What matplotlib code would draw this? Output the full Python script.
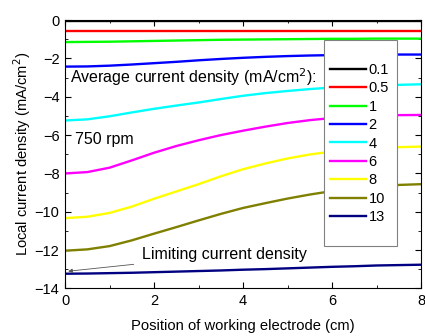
import numpy as np
import matplotlib.pyplot as plt
from matplotlib.patches import Rectangle

plt.rcParams['font.family'] = ['Liberation Sans', 'DejaVu Sans']

x = [0, 0.5, 1, 1.5, 2, 2.5, 3, 3.5, 4, 4.5, 5, 5.5, 6, 6.5, 7, 7.5, 8]
labels = ['0.1', '0.5', '1', '2', '4', '6', '8', '10', '13']
colors = ['#000000', '#ff0000', '#00ff00', '#0000ff', '#00ffff',
          '#ff00ff', '#ffff00', '#808000', '#000080']

j_01 = [-0.05] * 17
j_05 = [-0.55] * 17
j_1 = [-1.15, -1.14, -1.13, -1.11, -1.09, -1.07, -1.05, -1.03, -1.02,
       -1.01, -1.0, -0.99, -0.98, -0.98, -0.97, -0.97, -0.97]
j_2 = [-2.43, -2.42, -2.38, -2.32, -2.25, -2.18, -2.1, -2.03, -1.97,
       -1.92, -1.88, -1.85, -1.83, -1.82, -1.81, -1.8, -1.8]
j_4 = [-5.24, -5.18, -5.02, -4.82, -4.63, -4.46, -4.3, -4.12, -3.95,
       -3.81, -3.7, -3.6, -3.52, -3.46, -3.42, -3.38, -3.35]
j_6 = [-8.0, -7.93, -7.7, -7.32, -6.92, -6.57, -6.27, -6.0, -5.77,
       -5.56, -5.37, -5.22, -5.11, -5.04, -4.99, -4.96, -4.95]
j_8 = [-10.33, -10.26, -10.06, -9.73, -9.32, -8.94, -8.56, -8.15, -7.78,
       -7.48, -7.22, -7.01, -6.86, -6.76, -6.68, -6.63, -6.6]
j_10 = [-12.03, -11.96, -11.79, -11.49, -11.14, -10.8, -10.45, -10.11, -9.8,
        -9.55, -9.31, -9.1, -8.92, -8.77, -8.66, -8.6, -8.56]
j_13 = [-13.23, -13.22, -13.2, -13.18, -13.15, -13.12, -13.09, -13.06, -13.02,
        -12.99, -12.95, -12.91, -12.87, -12.84, -12.8, -12.78, -12.76]
series = [j_01, j_05, j_1, j_2, j_4, j_6, j_8, j_10, j_13]

fig = plt.figure(figsize=(4.25, 3.36), dpi=100)
ax = fig.add_axes([0.153, 0.1414, 0.838, 0.799])

for y, c, lab in zip(series, colors, labels):
    ax.plot(x, y, color=c, lw=1.7, label=lab)

ax.set_xlim(0, 8)
ax.set_ylim(-14, 0)
ax.set_xticks([0, 2, 4, 6, 8])
ax.set_yticks(range(-14, 1, 2))
ax.set_xticks([1, 3, 5, 7], minor=True)
ax.set_yticks(range(-13, 0, 2), minor=True)
ax.tick_params(which='both', direction='in', top=True, right=True,
               labelsize=10.5, pad=4)
ax.tick_params(which='major', length=4)
ax.tick_params(which='minor', length=2)
ax.set_xlabel('Position of working electrode (cm)', fontsize=10.6, labelpad=8)
ax.set_ylabel('Local current density (mA/cm$^2$)', fontsize=10.6, labelpad=1.5)

ax.text(0.12, -3.0, 'Average current density (mA/cm$^2$):', fontsize=11.5, va='center')
ax.text(0.22, -6.25, '750 rpm', fontsize=11.5, va='center')
ax.annotate('Limiting current density', xy=(0.07, -13.1), xytext=(1.73, -12.24),
            fontsize=11.5, va='center',
            arrowprops=dict(arrowstyle='-|>', color='#555555', lw=0.6,
                            mutation_scale=6, shrinkA=4, shrinkB=0))

# legend box is much taller than its entries, so draw the frame separately
ax.add_patch(Rectangle((0.727, 0.16), 0.205, 0.766, transform=ax.transAxes,
                       facecolor='white', edgecolor='#808080', lw=0.8, zorder=3))
leg = ax.legend(loc='center', bbox_to_anchor=(0.827, 0.54), fontsize=10.5,
                frameon=False, handlelength=2.45, handletextpad=0.18,
                labelspacing=0.3, borderpad=0, borderaxespad=0)
leg.set_zorder(4)

fig.savefig('out.png', dpi=100)
